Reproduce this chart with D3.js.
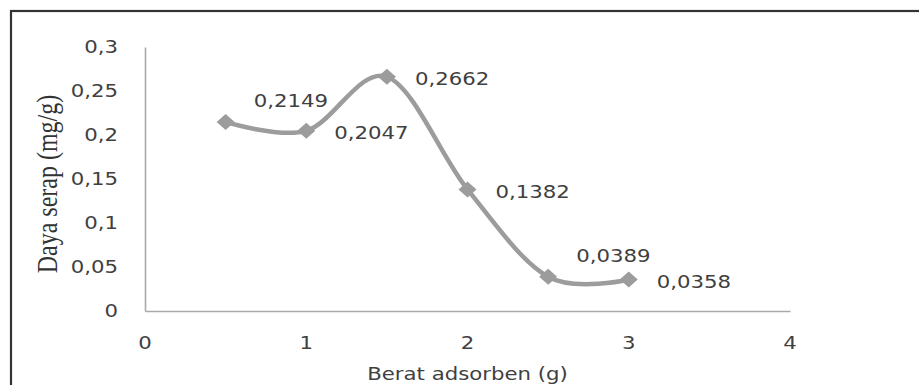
<!DOCTYPE html>
<html>
<head>
<meta charset="utf-8">
<script src="https://cdn.jsdelivr.net/npm/d3@7"></script>
<style>
  html, body { margin: 0; padding: 0; background: #fff; }
  svg { display: block; }
</style>
</head>
<body>
<svg id="chart" width="919" height="385"></svg>
<script>
// Adsorbent mass (g) vs. adsorption capacity (mg/g)
const beratAdsorben = [0.5, 1, 1.5, 2, 2.5, 3];
const dayaSerap = [0.2149, 0.2047, 0.2662, 0.1382, 0.0389, 0.0358];
const xTickValues = [0, 1, 2, 3, 4];
const yTickValues = [0, 0.05, 0.1, 0.15, 0.2, 0.25, 0.3];
const labelPlacement = ["upper", "right", "right", "right", "upper", "right"];
const xTitle = "Berat adsorben (g)";
const yTitle = "Daya serap (mg/g)";

const W = 919, H = 385;
const margin = { left: 145, right: 129, top: 47, bottom: 74 };
const sx = 1.25;               // horizontal glyph stretch
const sansFont = "'DejaVu Sans', Verdana, sans-serif";
const serifFont = "'Liberation Serif', 'Times New Roman', serif";
const textColor = "#404040";
const lineColor = "#9c9c9c";
const axisColor = "#a9a9a9";

const locale = d3.formatLocale({ decimal: ",", thousands: ".", grouping: [3], currency: ["", ""] });
const tickFmt = locale.format(".2~f");
const valFmt = locale.format(".4~f");

const svg = d3.select("#chart");

// outer frame (runs off the right and bottom edges)
svg.append("rect")
  .attr("x", 11).attr("y", 11)
  .attr("width", 1200).attr("height", 1200)
  .attr("fill", "none").attr("stroke", "#333").attr("stroke-width", 2.2);

const x = d3.scaleLinear().domain([0, 4]).range([margin.left, W - margin.right]);
const y = d3.scaleLinear().domain([0, 0.3]).range([H - margin.bottom, margin.top]);

// y axis
const gy = svg.append("g")
  .attr("transform", `translate(${margin.left},0)`)
  .call(d3.axisLeft(y).tickValues(yTickValues).tickFormat(tickFmt)
    .tickSize(0).tickSizeOuter(0).tickPadding(27 / sx));
gy.select(".domain").attr("stroke", axisColor).attr("stroke-width", 1.6);
gy.selectAll(".tick text")
  .attr("fill", textColor)
  .style("font-family", sansFont).style("font-size", "17px")
  .attr("transform", `scale(${sx},1)`);

// x axis
const gx = svg.append("g")
  .attr("transform", `translate(0,${y(0)})`)
  .call(d3.axisBottom(x).tickValues(xTickValues).tickFormat(d3.format("d"))
    .tickSize(0).tickSizeOuter(0).tickPadding(26));
gx.select(".domain").attr("stroke", axisColor).attr("stroke-width", 1.6);
gx.selectAll(".tick text")
  .attr("fill", textColor)
  .style("font-family", sansFont).style("font-size", "17px")
  .attr("transform", `scale(${sx},1)`)
  .attr("x", function () { return 0; });
// keep x tick labels centered on their ticks after stretching
gx.selectAll(".tick").each(function (d) {
  d3.select(this).attr("transform", `translate(${x(d)},0)`);
});
svg.selectAll("path.domain").attr("fill", "none");
svg.selectAll(".tick line").remove();

const pts = beratAdsorben.map((v, i) => ({ x: v, y: dayaSerap[i], pos: labelPlacement[i] }));

// smoothed series line
svg.append("path")
  .datum(pts)
  .attr("fill", "none")
  .attr("stroke", lineColor)
  .attr("stroke-width", 4.5)
  .attr("stroke-linejoin", "round")
  .attr("d", d3.line().x(d => x(d.x)).y(d => y(d.y)).curve(d3.curveCatmullRom.alpha(0)));

// diamond markers
const hw = 9, hh = 8;
svg.append("g").selectAll("path")
  .data(pts).join("path")
  .attr("fill", lineColor)
  .attr("d", d => {
    const cx = x(d.x), cy = y(d.y);
    return `M${cx},${cy - hh}L${cx + hw},${cy}L${cx},${cy + hh}L${cx - hw},${cy}Z`;
  });

// value labels
svg.append("g").selectAll("text")
  .data(pts).join("text")
  .attr("fill", textColor)
  .style("font-family", sansFont).style("font-size", "17px")
  .attr("transform", d => {
    const tx = x(d.x) + 28;
    const cy = y(d.y) + (d.pos === "upper" ? -21 : 2);
    return `translate(${tx},${cy + 6.2}) scale(${sx},1)`;
  })
  .text(d => valFmt(d.y));

// axis titles
svg.append("text")
  .attr("fill", textColor)
  .attr("text-anchor", "middle")
  .style("font-family", sansFont).style("font-size", "17px")
  .attr("transform", `translate(${(x(0) + x(4)) / 2},380) scale(${sx},1)`)
  .text(xTitle);

svg.append("text")
  .attr("fill", "#333")
  .attr("text-anchor", "middle")
  .style("font-family", serifFont).style("font-size", "24px")
  .attr("transform", `translate(56.5,${(y(0) + y(0.3)) / 2 + 5}) scale(${sx},1) rotate(-90)`)
  .text(yTitle);
</script>
</body>
</html>
